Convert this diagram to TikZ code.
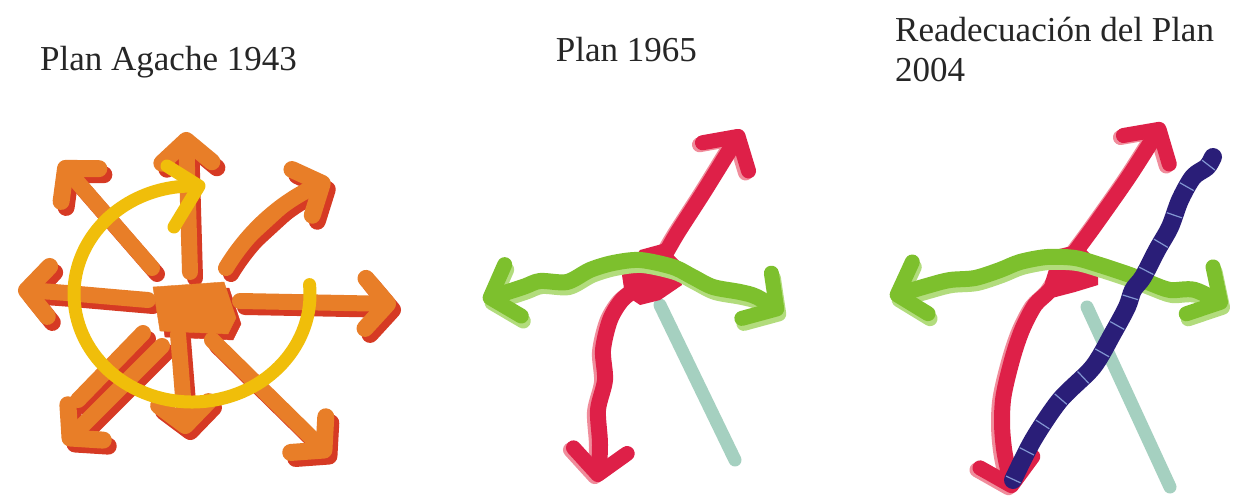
\documentclass[tikz,border=0pt]{standalone}
\usepackage{fontspec}
\setmainfont{Liberation Serif}
\usetikzlibrary{arrows.meta}
\definecolor{agOrange}{RGB}{232,126,40}
\definecolor{agRed}{RGB}{214,58,36}
\definecolor{agYellow}{RGB}{240,190,10}
\definecolor{rRed}{RGB}{222,32,72}
\definecolor{rPink}{RGB}{240,140,155}
\definecolor{gGreen}{RGB}{125,192,45}
\definecolor{gLight}{RGB}{178,220,125}
\definecolor{tealLine}{RGB}{165,208,192}
\definecolor{navyLine}{RGB}{42,30,120}
\definecolor{navyTick}{RGB}{130,150,210}
\tikzset{
  title/.style={inner sep=0pt, font=\fontsize{35}{40}\selectfont, text=black!85},
  agshaft/.style={line width=16pt, line cap=round, line join=round},
  agshadow/.style={draw=agRed, fill=agRed, shift={(5,6)}},
  agfront/.style={draw=agOrange, fill=agOrange},
  tipO/.style={-{Straight Barb[round,length=22pt,width=50pt,line width=17pt]}},
  thick2/.style={line width=16pt, line cap=round, line join=round},
  tipBoth/.style={{Straight Barb[round,length=24pt,width=54pt,line width=15pt]}-{Straight Barb[round,length=24pt,width=54pt,line width=15pt]}},
  yellowline/.style={draw=agYellow, line width=13pt, line cap=round, line join=round},
  tealstroke/.style={draw=tealLine, line width=13pt, line cap=round},
  navystroke/.style={draw=navyLine, line width=18pt, line cap=round, line join=round},
  navyticks/.style={draw=navyTick, line width=16pt, dash pattern=on 1.2pt off 30pt},
}
\newcommand\AgacheArrows[1]{%
  \draw[agshaft,#1,tipO] (190,272) -- (186,132);
  \draw[agshaft,#1,tipO] (152,268) -- (60,162);
  \draw[agshaft,#1,tipO] (226,268) .. controls (250,228) and (285,200) .. (330,180);
  \draw[agshaft,#1,tipO] (148,300) .. controls (100,296) and (60,292) .. (18,290);
  \draw[agshaft,#1,tipO] (240,301) -- (396,304);
  \draw[agshaft,#1] (143,333) -- (78,400);
  \draw[agshaft,#1,tipO] (162,346) -- (64,444);
  \draw[agshaft,#1,tipO] (178,334) -- (186,434);
  \draw[agshaft,#1,tipO] (212,340) -- (330,456);
  \fill[#1] (153,287) -- (224,282) -- (236,318) -- (228,334) -- (160,331) -- cycle;
}
\begin{document}
\begin{tikzpicture}[x=1pt,y=-1pt]
\useasboundingbox (0,0) rectangle (1233,500);
\fill[white] (0,0) rectangle (1233,500);

% titles
\node[title, anchor=base west] (t1) at (40,71) {Plan Agache 1943};
\node[title, anchor=base east] (t2) at (697,62) {Plan 1965};
\node[title, anchor=base west] (t3a) at (895,42) {Readecuación del Plan};
\node[title, anchor=base west] (t3b) at (895,82) {2004};

% ---------- Panel 1 ----------
\AgacheArrows{agshadow}
\AgacheArrows{agfront}
\draw[yellowline] (192,294) ++(-5:118 and 108)
  arc[start angle=-5, end angle=272, x radius=118, y radius=108];
\draw[yellowline] (167,166) -- (199,186) -- (174,227);

% ---------- Panel 2 ----------
\draw[tealstroke] (660,305) -- (735,460);
\draw[thick2, rPink, tipBoth, shift={(-3,2)}] plot[smooth, tension=0.5] coordinates {
  (597,482) (600,445) (598,410) (605,380) (603,350) (610,320) (622,300)
  (640,285) (660,262) (678,232) (705,190) (742,130)};
\draw[thick2, rRed, tipBoth] plot[smooth, tension=0.5] coordinates {
  (597,482) (600,445) (598,410) (605,380) (603,350) (610,320) (622,300)
  (640,285) (660,262) (678,232) (705,190) (742,130)};
\fill[rRed] (640,250) -- (662,244) -- (680,262) -- (682,285) -- (660,300)
  -- (640,305) -- (625,295) -- (622,275) -- cycle;
\draw[thick2, gLight, tipBoth, shift={(2,5)}] plot[smooth, tension=0.5] coordinates {
  (483,300) (523,287) (540,281) (567,282) (590,270) (613,263) (640,260)
  (673,267) (693,277) (713,287) (740,292) (757,297) (783,313)};
\draw[thick2, gGreen, tipBoth] plot[smooth, tension=0.5] coordinates {
  (483,300) (523,287) (540,281) (567,282) (590,270) (613,263) (640,260)
  (673,267) (693,277) (713,287) (740,292) (757,297) (783,313)};

% ---------- Panel 3 ----------
\draw[tealstroke] (1087,307) -- (1170,487);
\draw[thick2, rPink, tipBoth, shift={(-3,2)}] plot[smooth, tension=0.5] coordinates {
  (1013,493) (1003,440) (1003,400) (1012,360) (1022,330) (1035,305) (1050,290)
  (1068,262) (1095,225) (1130,175) (1163,123)};
\draw[thick2, rRed, tipBoth] plot[smooth, tension=0.5] coordinates {
  (1013,493) (1003,440) (1003,400) (1012,360) (1022,330) (1035,305) (1050,290)
  (1068,262) (1095,225) (1130,175) (1163,123)};
\fill[rRed] (1055,250) -- (1080,244) -- (1098,262) -- (1098,285) -- (1075,292)
  -- (1052,298) -- (1045,282) -- cycle;
\draw[thick2, gLight, tipBoth, shift={(2,5)}] plot[smooth, tension=0.5] coordinates {
  (890,297) (930,285) (950,280) (975,278) (1000,270) (1020,262) (1047,257)
  (1075,258) (1100,265) (1130,275) (1150,283) (1170,290) (1195,290) (1227,306)};
\draw[thick2, gGreen, tipBoth] plot[smooth, tension=0.5] coordinates {
  (890,297) (930,285) (950,280) (975,278) (1000,270) (1020,262) (1047,257)
  (1075,258) (1100,265) (1130,275) (1150,283) (1170,290) (1195,290) (1227,306)};
\draw[navystroke] plot[smooth, tension=0.5] coordinates {
  (1013,480) (1033,440) (1060,400) (1093,367) (1113,333) (1127,307) (1133,290)
  (1143,277) (1157,250) (1170,227) (1180,200) (1193,177) (1207,167) (1213,157)};
\draw[navyticks] plot[smooth, tension=0.5] coordinates {
  (1013,480) (1033,440) (1060,400) (1093,367) (1113,333) (1127,307) (1133,290)
  (1143,277) (1157,250) (1170,227) (1180,200) (1193,177) (1207,167) (1213,157)};
\end{tikzpicture}
\end{document}
